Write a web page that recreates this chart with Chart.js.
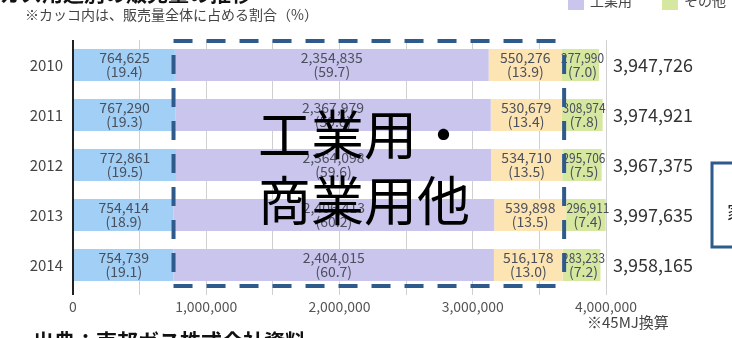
<!DOCTYPE html>
<html>
<head>
<meta charset="utf-8">
<script src="https://cdn.jsdelivr.net/npm/chart.js@4/dist/chart.umd.min.js"></script>
<style>
  html, body { margin: 0; padding: 0; background: #fff; }
  #wrap { width: 732px; height: 338px; position: relative; overflow: hidden; }
  canvas { display: block; }
</style>
</head>
<body>
<div id="wrap"><canvas id="chart" width="732" height="338"></canvas></div>
<script>
// Gas sales volume by use (45MJ basis), 2010-2014
const years = ['2010', '2011', '2012', '2013', '2014'];
const residential = [764625, 767290, 772861, 754414, 754739];
const industrial = [2354835, 2367979, 2364098, 2406413, 2404015];
const commercial = [550276, 530679, 534710, 539898, 516178];
const others = [277990, 308974, 295706, 296911, 283233];
const residentialPct = [19.4, 19.3, 19.5, 18.9, 19.1];
const industrialPct = [59.7, 59.6, 59.6, 60.2, 60.7];
const commercialPct = [13.9, 13.4, 13.5, 13.5, 13.0];
const othersPct = [7.0, 7.8, 7.5, 7.4, 7.2];
const totals = [3947726, 3974921, 3967375, 3997635, 3958165];
const xMax = 4000000;
const xStep = 500000;
const xLabelStep = 1000000;

const JP = '"Noto Sans CJK JP", "Noto Sans", sans-serif';
const fmt = v => v.toLocaleString('en-US');

const pctSets = [residentialPct, industrialPct, commercialPct, othersPct];

const overlay = {
  id: 'overlay',
  beforeDraw(chart) {
    const c = chart.ctx;
    c.save();
    c.fillStyle = '#ffffff';
    c.fillRect(0, 0, chart.width, chart.height);
    c.restore();
  },
  afterDatasetsDraw(chart) {
    const c = chart.ctx;
    const area = chart.chartArea;
    const xs = chart.scales.x;
    const ys = chart.scales.y;
    c.save();

    // segment labels: value + share
    chart.data.datasets.forEach((ds, i) => {
      const meta = chart.getDatasetMeta(i);
      meta.data.forEach((bar, j) => {
        const cx = (bar.x + bar.base) / 2;
        const maxW = i === 3 ? 43 : undefined;
        c.font = '14px ' + JP;
        c.fillStyle = '#4a4f5c';
        c.textAlign = 'center';
        c.textBaseline = 'middle';
        const v = fmt(ds.data[j]);
        const p = '(' + pctSets[i][j].toFixed(1) + ')';
        if (maxW) {
          c.fillText(v, cx + 2, bar.y - 7, maxW);
          c.fillText(p, cx + 2, bar.y + 7, maxW);
        } else {
          c.fillText(v, cx, bar.y - 7);
          c.fillText(p, cx, bar.y + 7);
        }
      });
    });

    // totals to the right of each bar
    c.font = '18px ' + JP;
    c.fillStyle = '#333333';
    c.textAlign = 'left';
    c.textBaseline = 'middle';
    totals.forEach((t, j) => {
      c.fillText(fmt(t), area.right + 7, ys.getPixelForValue(j));
    });

    // dashed frame around industrial + commercial segments
    const left = xs.getPixelForValue(Math.min(...residential));
    const right = xs.getPixelForValue(Math.max(...residential.map((r, j) => r + industrial[j] + commercial[j]))) - 2;
    const top = area.top + 1;
    const bottom = ys.getPixelForValue(years.length - 1) + 21;
    c.strokeStyle = '#2f5a8c';
    c.lineWidth = 4;
    c.setLineDash([19, 14]);
    const seg = (x1, y1, x2, y2, off) => {
      c.lineDashOffset = off;
      c.beginPath();
      c.moveTo(x1, y1);
      c.lineTo(x2, y2);
      c.stroke();
    };
    seg(left, top, right, top, 0);
    seg(left, bottom, right, bottom, 0);
    seg(left, top, left, bottom, 19);
    seg(right, top, right, bottom, 19);
    c.setLineDash([]);

    // callout text
    c.font = '53px ' + JP;
    c.fillStyle = '#000000';
    c.textAlign = 'left';
    c.textBaseline = 'middle';
    c.fillText('工業用・', 258, 135);
    c.fillText('商業用他', 258, 201);

    // header notes
    c.font = 'bold 21px ' + JP;
    c.fillStyle = '#111';
    c.textBaseline = 'alphabetic';
    c.fillText('ガス用途別の販売量の推移', 0, 1);
    c.font = '14px ' + JP;
    c.fillStyle = '#444';
    c.textBaseline = 'middle';
    c.fillText('※カッコ内は、販売量全体に占める割合（%）', 25, 15);

    // legend row
    const legendItems = [[1, 568], [3, 662]];
    legendItems.forEach(([i, lx]) => {
      const ds = chart.data.datasets[i];
      c.fillStyle = ds.backgroundColor;
      c.fillRect(lx, -6, 16, 16);
      c.fillStyle = '#444';
      c.font = '14px ' + JP;
      c.textBaseline = 'middle';
      c.fillText(ds.label, lx + 22, 1);
    });

    // footnotes
    c.font = '15px ' + JP;
    c.fillStyle = '#444';
    c.textBaseline = 'middle';
    c.fillText('※45MJ換算', 587, 322);
    c.font = 'bold 21px ' + JP;
    c.fillStyle = '#111';
    c.textBaseline = 'top';
    c.fillText('出典：東邦ガス株式会社資料', 33, 331);

    // side box on the right edge
    c.strokeStyle = '#2f5a8c';
    c.lineWidth = 3;
    c.strokeRect(712, 163, 60, 84);
    c.font = '18px ' + JP;
    c.fillStyle = '#222';
    c.textBaseline = 'middle';
    c.fillText('家庭用', 727, 212);

    c.restore();
  }
};

new Chart(document.getElementById('chart'), {
  type: 'bar',
  data: {
    labels: years,
    datasets: [
      { label: '家庭用', data: residential, backgroundColor: '#a2cff5' },
      { label: '工業用', data: industrial, backgroundColor: '#cac5ec' },
      { label: '商業用', data: commercial, backgroundColor: '#fde4b3' },
      { label: 'その他', data: others, backgroundColor: '#d6e8a0' }
    ]
  },
  options: {
    indexAxis: 'y',
    responsive: false,
    animation: false,
    devicePixelRatio: 1,
    categoryPercentage: 0.8,
    barPercentage: 0.8,
    layout: { padding: { top: 40, right: 126, left: 0, bottom: 0 } },
    plugins: { legend: { display: false }, tooltip: { enabled: false } },
    scales: {
      x: {
        stacked: true,
        min: 0,
        max: xMax,
        border: { display: false },
        grid: {
          color: ctx => (ctx.tick && ctx.tick.value === 0 ? '#222' : '#d0d0d0'),
          lineWidth: ctx => (ctx.tick && ctx.tick.value === 0 ? 2 : 1),
          tickLength: 5
        },
        ticks: {
          stepSize: xStep,
          autoSkip: false,
          maxRotation: 0,
          padding: 3,
          color: '#555',
          font: { size: 14, family: JP },
          callback: v => (v % xLabelStep === 0 ? fmt(v) : '')
        },
        afterFit: s => { s.height = 48; }
      },
      y: {
        stacked: true,
        border: { display: false },
        grid: { display: false, drawTicks: false },
        ticks: { padding: 10, color: '#444', font: { size: 15, family: JP } },
        afterFit: s => { s.width = 73; }
      }
    }
  },
  plugins: [overlay]
});
</script>
</body>
</html>
